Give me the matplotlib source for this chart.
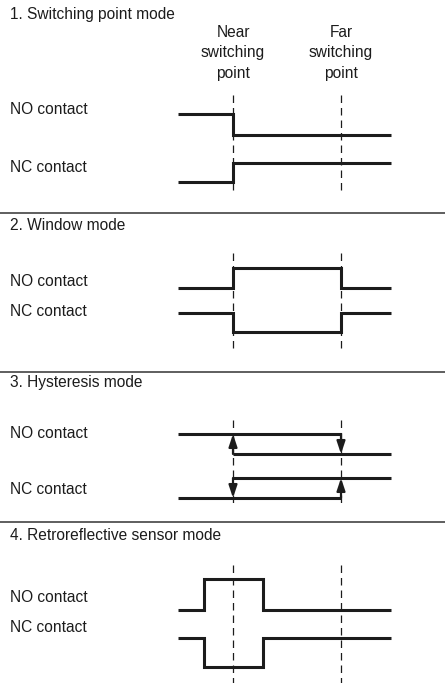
import matplotlib.pyplot as plt

plt.rcParams['font.family'] = ['Liberation Sans', 'DejaVu Sans']

# horizontal positions (diagram units = pixels of the reference)
x_start = 178
x_end = 391
near = 233
far = 341

titles = ['1. Switching point mode', '2. Window mode',
          '3. Hysteresis mode', '4. Retroreflective sensor mode']
title_y = [14, 225, 383, 535]
separators = [213, 372, 522]

label_names = ['NO contact', 'NC contact']
label_y = [[110, 168], [281, 312], [433, 490], [597, 628]]

# dashed guide lines (top, bottom) per section
guide_span = [(95, 192), (253, 350), (420, 503), (565, 683)]

# step traces: x breakpoints and levels
# section 1
s1_no_x = [x_start, near, near, x_end]
s1_no_y = [114, 114, 135, 135]
s1_nc_x = [x_start, near, near, x_end]
s1_nc_y = [182, 182, 163, 163]
# section 2
s2_no_x = [x_start, near, near, far, far, x_end]
s2_no_y = [288, 288, 268, 268, 288, 288]
s2_nc_x = [x_start, near, near, far, far, x_end]
s2_nc_y = [313, 313, 332, 332, 313, 313]
# section 3 (hysteresis)
s3_no_hi_x = [x_start, far]
s3_no_hi_y = [434, 434]
s3_no_lo_x = [near, x_end]
s3_no_lo_y = [454, 454]
s3_nc_lo_x = [x_start, far]
s3_nc_lo_y = [498, 498]
s3_nc_hi_x = [near, x_end]
s3_nc_hi_y = [478, 478]
# arrows: (x, from_y, to_y)
s3_arrows = [(near, 454, 434), (far, 434, 454), (near, 478, 498), (far, 498, 478)]
# section 4
r_on = 204
r_off = 263
s4_no_x = [x_start, r_on, r_on, r_off, r_off, x_end]
s4_no_y = [610, 610, 579, 579, 610, 610]
s4_nc_x = [x_start, r_on, r_on, r_off, r_off, x_end]
s4_nc_y = [638, 638, 667, 667, 638, 638]

ink = '#1c1c1c'
fs = 11.2

fig = plt.figure(figsize=(4.45, 6.83), dpi=100)
ax = fig.add_axes([0, 0, 1, 1])
ax.set_xlim(0, 445)
ax.set_ylim(683, 0)
ax.axis('off')

# titles and separators
for t, y in zip(titles, title_y):
    ax.text(10, y, t, fontsize=fs, color=ink, va='center', ha='left')
for y in separators:
    ax.plot([0, 445], [y, y], color='#333333', lw=1.1)

# column headers
ax.text(near, 53, 'Near\nswitching\npoint', fontsize=fs, color=ink,
        ha='center', va='center', linespacing=1.45)
ax.text(far, 53, 'Far\nswitching\npoint', fontsize=fs, color=ink,
        ha='center', va='center', linespacing=1.45)

# contact labels
for ys in label_y:
    for name, y in zip(label_names, ys):
        ax.text(10, y, name, fontsize=fs, color=ink, va='center', ha='left')

# dashed guides
for top, bot in guide_span:
    for gx in (near, far):
        ax.plot([gx, gx], [top, bot], color=ink, lw=0.9, ls=(0, (6, 4)))

trace = dict(color=ink, lw=2.2, solid_joinstyle='miter', solid_capstyle='butt')
for xs, ys in [(s1_no_x, s1_no_y), (s1_nc_x, s1_nc_y),
               (s2_no_x, s2_no_y), (s2_nc_x, s2_nc_y),
               (s3_no_hi_x, s3_no_hi_y), (s3_no_lo_x, s3_no_lo_y),
               (s3_nc_lo_x, s3_nc_lo_y), (s3_nc_hi_x, s3_nc_hi_y),
               (s4_no_x, s4_no_y), (s4_nc_x, s4_nc_y)]:
    ax.plot(xs, ys, **trace)

for ax_x, y0, y1 in s3_arrows:
    ax.annotate('', xy=(ax_x, y1), xytext=(ax_x, y0),
                arrowprops=dict(arrowstyle='-|>,head_length=0.75,head_width=0.25',
                                color=ink, lw=1.6, shrinkA=0, shrinkB=0))

fig.savefig('out.png', dpi=100)
